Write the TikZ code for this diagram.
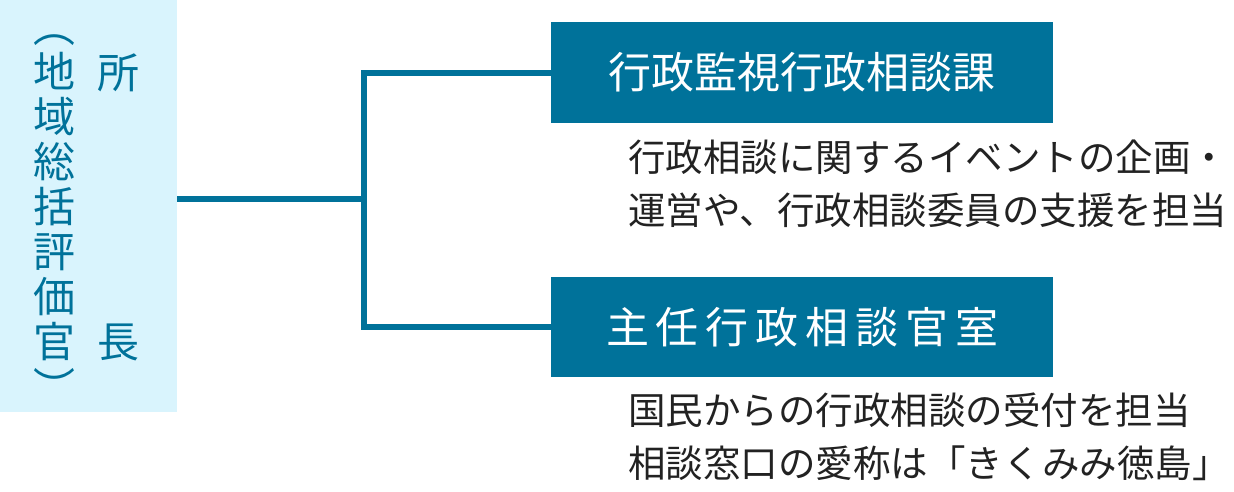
\documentclass[tikz,border=0pt]{standalone}
\usepackage{fontspec}
\usepackage{xcolor}
\usepackage{tikz}
\usetikzlibrary{positioning}
\setmainfont{Noto Sans CJK JP}
\newfontfamily\jpwide{Noto Sans CJK JP}[LetterSpace=16]
\definecolor{Teal}{HTML}{00729A}
\definecolor{SoftCyan}{HTML}{D9F4FD}
\definecolor{Ink}{HTML}{222222}

\begin{document}
\begin{tikzpicture}[x=1pt, y=-1pt, every node/.style={inner sep=0pt}, headbox/.style={fill=SoftCyan, anchor=north west, minimum width=177pt, minimum height=412pt}, vtext/.style={text=Teal, font=\fontsize{42}{45}\selectfont, align=center}, unit/.style={fill=Teal, text=white, anchor=north west, minimum width=502pt, minimum height=101pt, font=\fontsize{43}{48}\selectfont}, desc/.style={text=Ink, anchor=west, align=left, font=\fontsize{37.5}{53}\selectfont}, link/.style={draw=Teal, line width=6pt}]
\useasboundingbox (0,0) rectangle (1234,492);
\node[headbox] (head) at (0,0) {};
\node[vtext] (sub) at (54,207) {地\\域\\総\\括\\評\\価\\官};
\node[vtext, rotate=-90] (open) at (54,27) {（};
\node[vtext, rotate=-90] (close) at (54,387) {）};
\node[vtext] (top) at (118,73) {所};
\node[vtext] (bot) at (118,342) {長};
\node[unit] (box1) at (551,22) {行政監視行政相談課};
\node[unit, minimum height=100pt] (box2) at (551,277) {\jpwide 主任行政相談官室};
\node[desc] (desc1) at (628,184) {行政相談に関するイベントの企画・\\運営や、行政相談委員の支援を担当};
\node[desc] (desc2) at (628,437) {国民からの行政相談の受付を担当\\相談窓口の愛称は「きくみみ徳島」};
\coordinate (fork) at (364,199);
\draw[link] (head.east |- fork) -- (fork);
\foreach \b in {box1,box2}{\draw[link] (fork) |- (\b.west);}
\end{tikzpicture}
\end{document}
